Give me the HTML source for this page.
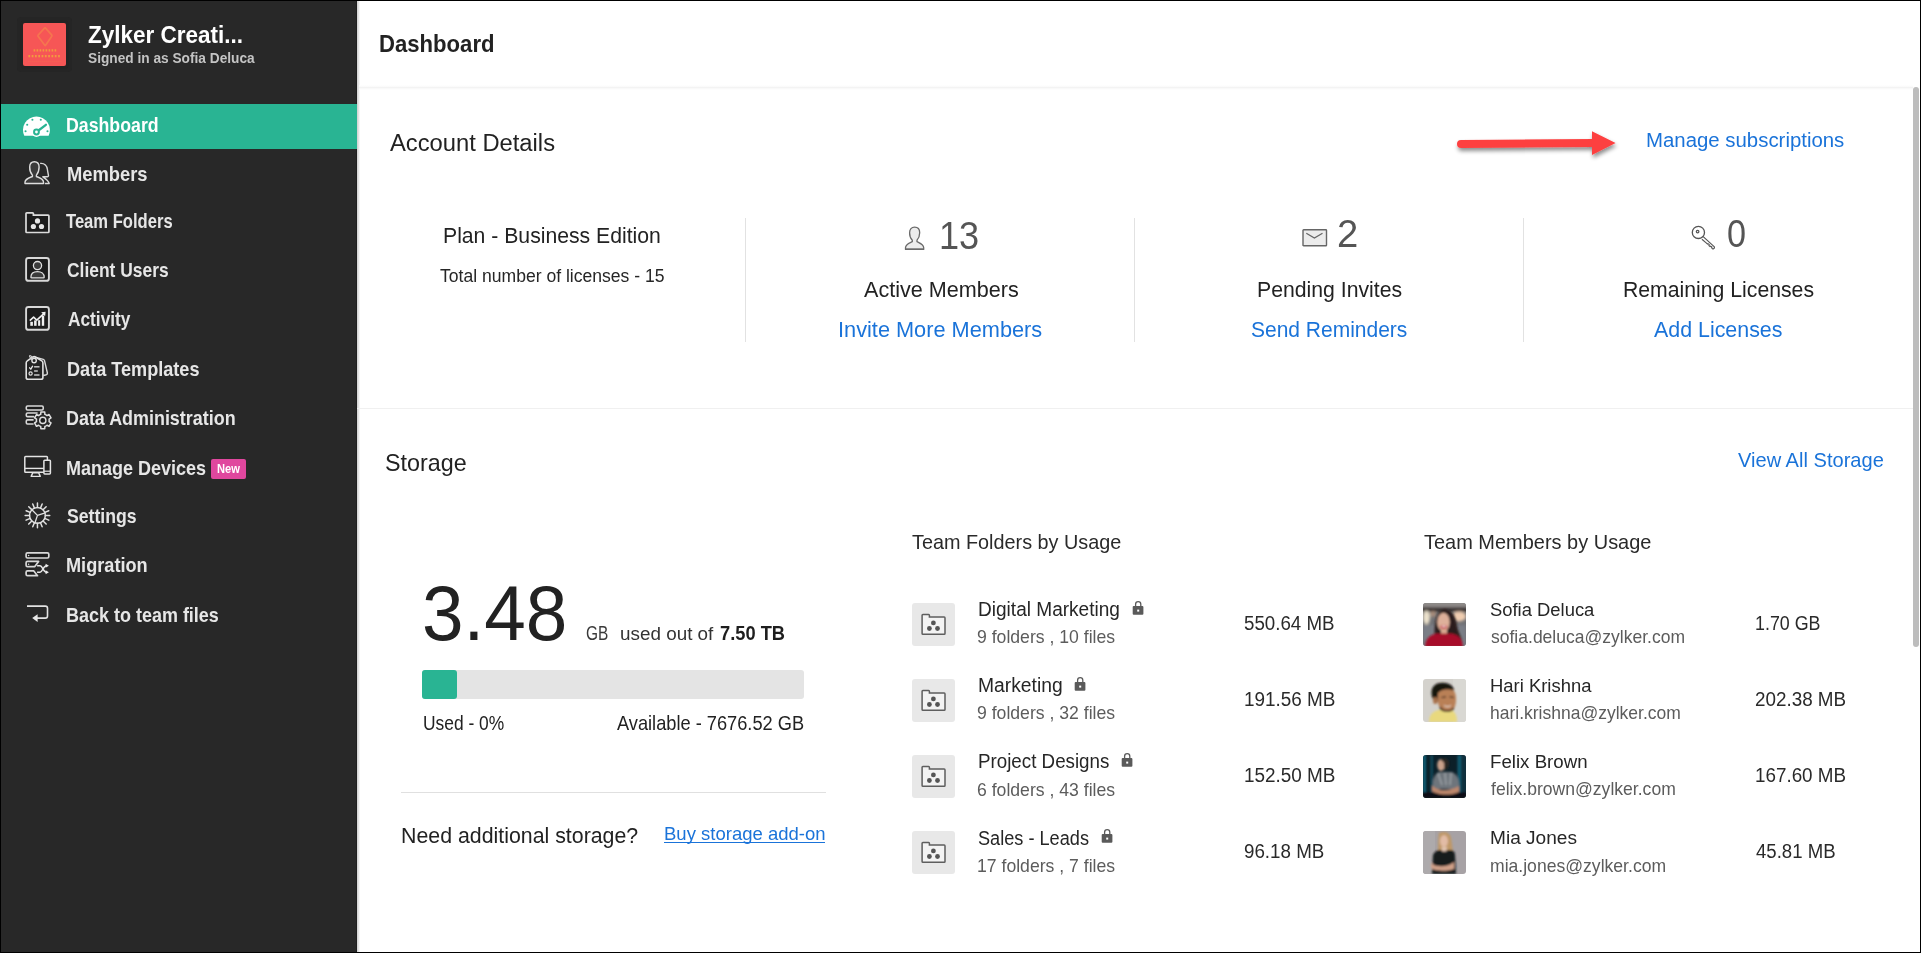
<!DOCTYPE html>
<html><head><meta charset="utf-8"><title>Dashboard</title>
<style>
*{box-sizing:border-box;margin:0;padding:0}
html,body{width:1921px;height:953px;overflow:hidden;background:#fff;font-family:"Liberation Sans",sans-serif}
.a{position:absolute}
.t{position:absolute;white-space:nowrap;line-height:1;font-family:"Liberation Sans",sans-serif}
#side{position:absolute;left:0;top:0;width:357px;height:953px;background:#282828}
#sideedge{position:absolute;left:356px;top:0;width:1px;height:953px;background:#1f1f1f}
#shadow{position:absolute;left:357px;top:0;width:3px;height:953px;background:linear-gradient(90deg,#d6d6d6 0 1px,#e3e3e3 1px 2px,#f5f5f5 2px 3px)}
#active{position:absolute;left:0;top:104px;width:357px;height:45px;background:#29b493}
.hsep{position:absolute;height:1px;background:#f0f0f0}
.vsep{position:absolute;width:1px;background:#e2e2e2}
#frame{position:absolute;left:0;top:0;width:1921px;height:953px;border:1px solid #000;pointer-events:none}
#scroll{position:absolute;left:1913px;top:87px;width:6px;height:560px;border-radius:3px;background:#bdbdbd}
.tile{position:absolute;width:43px;height:43px;border-radius:3px;background:#e8e8e8}
.av{position:absolute;width:43px;height:43px;border-radius:3px;overflow:hidden}
</style></head><body>
<div id="side"></div>
<div id="sideedge"></div>
<div id="shadow"></div>
<div id="active"></div>
<!-- logo -->
<svg class="a" style="left:17px;top:17px" width="55" height="55" viewBox="0 0 55 55">
 <rect x="0" y="0" width="55" height="55" rx="4" fill="#252525"/>
 <rect x="3.5" y="3.5" width="48" height="48" rx="3" fill="#232323"/>
 <rect x="6" y="6" width="43" height="43" rx="2" fill="#f65656"/>
 <path d="M27.7,11 Q28.2,10.6 28.6,11.1 L34.8,18.2 Q35.2,18.7 34.8,19.2 L28.6,28.3 Q28.2,28.8 27.8,28.3 L21.1,19.2 Q20.8,18.7 21.1,18.2 Z" fill="none" stroke="#f47a4e" stroke-width="1.8" opacity="0.85"/>
 <path d="M16.6,33.4 H39.2" stroke="#f2a23c" stroke-width="2.2" stroke-dasharray="1.6 1.4" opacity="0.9"/>
 <path d="M11.4,39.2 H44.4" stroke="#f2a23c" stroke-width="2.2" stroke-dasharray="1.7 1.6" opacity="0.9"/>
 <path d="M11.4,44.4 H44.4" stroke="#f08050" stroke-width="1" stroke-dasharray="1 1" opacity="0.35"/>
</svg>
<!-- ICONS -->
<!-- dashboard gauge -->
<svg class="a" style="left:18px;top:110px" width="38" height="32" viewBox="0 0 38 32">
 <path d="M6.3,25.8 A13.45,13.45 0 1 1 30.6,25.8 Z" fill="#fff"/>
 <circle cx="18.46" cy="22" r="4.9" fill="#fff"/>
 <line x1="18.46" y1="22" x2="27.9" y2="14.8" stroke="#29b493" stroke-width="2.3" stroke-linecap="round"/>
 <circle cx="18.46" cy="22" r="3.4" fill="#29b493"/>
 <circle cx="18.46" cy="22" r="1.4" fill="#fff"/>
 <g fill="#29b493"><circle cx="14.4" cy="9.7" r="1.05"/><circle cx="22.8" cy="9.7" r="1.05"/><circle cx="9.2" cy="14.8" r="1.05"/><circle cx="7.55" cy="21.3" r="1.05"/><circle cx="29.5" cy="21.3" r="1.05"/></g>
</svg>
<!-- members -->
<svg class="a" style="left:20px;top:157px" width="34" height="32" viewBox="0 0 34 32">
 <path d="M20.1,6.4 C24.5,6 26.8,8.5 27.4,12.5 C27.8,15.5 28.3,17 28.5,18.5 C28.6,19.5 27.5,19.8 26,19.8 L22.8,19.8 C25.5,21.5 28.5,23.5 29.2,26.5 L24.8,26.5" fill="none" stroke="#d8d8d8" stroke-width="1.4" stroke-linejoin="round"/>
 <path d="M12.4,18.1 C10.5,16 9.6,13.5 9.7,10 C9.7,6.5 11.6,4.7 14.4,4.7 C17.2,4.7 19.1,6.5 19.1,10 C19.1,13.5 18.2,16 16.4,18.1 L16.4,19.5 C19.5,20.8 23.3,21.8 23.5,25 L23.5,26.5 L5,26.5 L5,25 C5.3,21.8 9.2,20.8 12.4,19.5 Z" fill="#3b3b3b" stroke="#dedede" stroke-width="1.4" stroke-linejoin="round"/>
</svg>
<!-- team folders -->
<svg class="a" style="left:20px;top:206px" width="34" height="32" viewBox="0 0 34 32">
 <path d="M6,7.6 Q6,6.8 6.8,6.8 L12.6,6.8 Q13.4,6.8 13.4,7.6 L13.4,9.1 L28.1,9.1 Q28.9,9.1 28.9,9.9 L28.9,25.7 Q28.9,26.5 28.1,26.5 L6.8,26.5 Q6,26.5 6,25.7 Z" fill="#1c1c1c" stroke="#dcdcdc" stroke-width="1.7"/>
 <g fill="#e6e6e6"><circle cx="17.5" cy="14.9" r="2.6"/><circle cx="13.4" cy="20.5" r="2.6"/><circle cx="21.5" cy="20.5" r="2.6"/></g>
</svg>
<!-- client users -->
<svg class="a" style="left:20px;top:254px" width="34" height="32" viewBox="0 0 34 32">
 <rect x="6.1" y="4" width="22.8" height="22.8" rx="2.4" fill="#1c1c1c" stroke="#d8d8d8" stroke-width="1.9"/>
 <circle cx="17.5" cy="11.6" r="4.1" fill="#3b3b3b" stroke="#e0e0e0" stroke-width="1.3"/>
 <path d="M10.9,23.3 C10.9,19.6 13.8,17.6 17.5,17.6 C21.2,17.6 24.2,19.6 24.2,23.3 Q24.2,23.9 23.6,23.9 L11.5,23.9 Q10.9,23.9 10.9,23.3 Z" fill="#3b3b3b" stroke="#e0e0e0" stroke-width="1.3"/>
</svg>
<!-- activity -->
<svg class="a" style="left:20px;top:303px" width="34" height="32" viewBox="0 0 34 32">
 <rect x="6.1" y="4" width="22.8" height="22.8" rx="2.4" fill="#1c1c1c" stroke="#d8d8d8" stroke-width="1.9"/>
 <g fill="#f0f0f0"><rect x="10.3" y="18.8" width="2.6" height="4"/><rect x="14.1" y="17.4" width="2.5" height="5.4"/><rect x="18.1" y="17.2" width="2.1" height="5.6"/><rect x="21.8" y="12.6" width="2.4" height="10.2"/></g>
 <path d="M9.8,17.6 L13.6,14.2 L16.8,17.1 L23.6,10.8" fill="none" stroke="#f0f0f0" stroke-width="1.6" stroke-linejoin="round"/>
 <path d="M21.2,9.3 L25.6,8.8 L25.1,13.2 Z" fill="#f0f0f0"/>
</svg>
<!-- data templates -->
<svg class="a" style="left:20px;top:352px" width="34" height="32" viewBox="0 0 34 32">
 <path d="M13.5,4.8 L23.3,7.4 Q24.3,7.7 24.5,8.6 L27.4,21 Q27.6,22.3 26.4,22.7 L23.3,23.5" fill="none" stroke="#d8d8d8" stroke-width="1.4" stroke-linejoin="round"/>
 <path d="M6.2,11 Q6.2,9.6 7.3,8.9 L12.9,5 Q14.1,4.3 15.3,5 L21.8,8.9 Q22.9,9.6 22.9,11 L22.9,25.4 Q22.9,27.3 21,27.3 L8.1,27.3 Q6.2,27.3 6.2,25.4 Z" fill="#232323" stroke="#e2e2e2" stroke-width="1.6" stroke-linejoin="round"/>
 <circle cx="14.1" cy="8.5" r="2.2" fill="none" stroke="#e2e2e2" stroke-width="1.4"/>
 <path d="M12.3,8 C10.5,6 9,4.5 9.5,3.8 C10.2,3 12,4.5 13,6.5" fill="none" stroke="#d0d0d0" stroke-width="1.1"/>
 <path d="M9.6,15.8 L10.8,17.2 L12.6,14.2" fill="none" stroke="#e8e8e8" stroke-width="1.3" stroke-linecap="round" stroke-linejoin="round"/>
 <g stroke="#c8c8c8" stroke-width="1.5"><line x1="14.1" y1="14.8" x2="19.5" y2="14.8"/><line x1="14.1" y1="19" x2="17.8" y2="19"/><line x1="14.1" y1="23" x2="19.5" y2="23"/></g>
 <circle cx="10.6" cy="21.5" r="1.6" fill="none" stroke="#e2e2e2" stroke-width="1.2"/>
</svg>
<!-- data administration -->
<svg class="a" style="left:20px;top:402px" width="34" height="32" viewBox="0 0 34 32">
 <rect x="6.3" y="4" width="16.9" height="4" rx="1.2" fill="#1c1c1c" stroke="#d8d8d8" stroke-width="1.6"/>
 <path d="M17.6,11 L7.5,11 Q6.3,11 6.3,12.2 L6.3,13.4 Q6.3,14.6 7.5,14.6 L14.2,14.6" fill="#1c1c1c" stroke="#d8d8d8" stroke-width="1.6"/>
 <path d="M13.6,17.9 L7.5,17.9 Q6.3,17.9 6.3,19.1 L6.3,20.8 Q6.3,22 7.5,22 L13.6,22" fill="#1c1c1c" stroke="#d8d8d8" stroke-width="1.6"/>
 <path id="gear" fill="#282828" stroke="#e0e0e0" stroke-width="1.5" stroke-linejoin="round" d="M20.72,12.35 L20.87,10.02 L24.73,10.02 L24.88,12.35 A6.40,6.40 0 0 1 27.00,13.57 L27.00,13.57 L29.09,12.53 L31.02,15.89 L29.08,17.18 A6.40,6.40 0 0 1 29.08,19.62 L29.08,19.62 L31.02,20.91 L29.09,24.27 L27.00,23.23 A6.40,6.40 0 0 1 24.88,24.45 L24.88,24.45 L24.73,26.78 L20.87,26.78 L20.72,24.45 A6.40,6.40 0 0 1 18.60,23.23 L18.60,23.23 L16.51,24.27 L14.58,20.91 L16.52,19.62 A6.40,6.40 0 0 1 16.52,17.18 L16.52,17.18 L14.58,15.89 L16.51,12.53 L18.60,13.57 A6.40,6.40 0 0 1 20.72,12.35 Z"/>
 <circle cx="22.8" cy="18.4" r="3.1" fill="#1c1c1c" stroke="#e0e0e0" stroke-width="1.4"/>
</svg>
<!-- manage devices -->
<svg class="a" style="left:20px;top:451px" width="34" height="32" viewBox="0 0 34 32">
 <rect x="4.8" y="5.4" width="22.6" height="15.8" rx="0.8" fill="#222" stroke="#e4e4e4" stroke-width="1.5"/>
 <line x1="4.8" y1="17.4" x2="27.4" y2="17.4" stroke="#e4e4e4" stroke-width="1.4"/>
 <path d="M12.7,21.9 L18.7,21.9 L20.3,25.4 L11.2,25.4 Z" fill="#222" stroke="#e4e4e4" stroke-width="1.4" stroke-linejoin="round"/>
 <rect x="23.9" y="9.3" width="6.5" height="13.6" rx="0.8" fill="#222" stroke="#e4e4e4" stroke-width="1.5"/>
 <line x1="24" y1="20.2" x2="30.3" y2="20.2" stroke="#e4e4e4" stroke-width="1.2"/>
</svg>
<!-- settings -->
<svg class="a" style="left:20px;top:500px" width="34" height="32" viewBox="0 0 34 32">
 <g fill="none" stroke="#e0e0e0" stroke-width="1.5" stroke-linecap="round">
 <circle cx="17.45" cy="15.4" r="7.9"/>
 <path id="spk" d="M17.45,7.5 V3.1 M17.45,23.3 V27.7 M9.55,15.4 H5.15 M25.35,15.4 H29.75 M11.86,9.81 L8.76,6.71 M23.04,20.99 L26.14,24.09 M11.86,20.99 L8.76,24.09 M23.04,9.81 L26.14,6.71 M14.43,8.10 L12.74,4.04 M20.47,22.70 L22.16,26.76 M10.15,12.38 L6.09,10.69 M24.75,18.42 L28.81,20.11 M10.15,18.42 L6.09,20.11 M24.75,12.38 L28.81,10.69 M14.43,22.70 L12.74,26.76 M20.47,8.10 L22.16,4.04"/>
 <path d="M17.45,15.4 L11.4,9.2 M17.45,15.4 L25.2,12.9 M17.45,15.4 L14.9,23" stroke-width="1.3"/>
 </g>
</svg>
<!-- migration -->
<svg class="a" style="left:20px;top:549px" width="34" height="32" viewBox="0 0 34 32">
 <rect x="6.1" y="3.9" width="22.7" height="5.1" rx="1.4" fill="#1c1c1c" stroke="#d8d8d8" stroke-width="1.7"/>
 <circle cx="8.6" cy="6.5" r="0.8" fill="#ddd"/>
 <path d="M18.6,12.4 L7.5,12.4 Q6.1,12.4 6.1,13.8 L6.1,16.3 Q6.1,17.7 7.5,17.7 L14.6,17.7 Z" fill="#1c1c1c" stroke="#d8d8d8" stroke-width="1.7" stroke-linejoin="round"/>
 <circle cx="8.6" cy="15.2" r="0.8" fill="#ddd"/>
 <path d="M13.8,21.9 L7.5,21.9 Q6.1,21.9 6.1,23.3 L6.1,25.3 Q6.1,26.7 7.5,26.7 L17.5,26.7 Z" fill="#1c1c1c" stroke="#d8d8d8" stroke-width="1.7" stroke-linejoin="round"/>
 <g fill="none" stroke="#e6e6e6" stroke-width="1.5">
  <path d="M17.1,16.8 L20.1,16.8 C22.5,16.8 23.5,23.2 26.3,23.2"/>
  <path d="M17.1,23.2 L20.1,23.2 C22.5,23.2 23.5,16.8 26.3,16.8"/>
 </g>
 <path d="M25.6,14.8 L28.9,16.8 L25.6,18.8 Z M25.6,21.2 L28.9,23.2 L25.6,25.2 Z" fill="#ececec"/>
</svg>
<!-- back -->
<svg class="a" style="left:20px;top:598px" width="34" height="32" viewBox="0 0 34 32">
 <path d="M7,8.1 L25.3,8.1 Q27.5,8.1 27.5,10.3 L27.5,17.9 Q27.5,20.1 25.3,20.1 L16.8,20.1" fill="none" stroke="#e2e2e2" stroke-width="1.6"/>
 <path d="M12.2,20.1 L17.6,16.3 L17.6,23.9 Z" fill="#e8e8e8"/>
</svg>
<!-- New badge -->
<div class="a" style="left:211px;top:459px;width:35px;height:20px;border-radius:2px;background:#e0479e"></div>

<!-- main separators -->
<div class="a" style="left:359px;top:85px;width:1554px;height:5px;background:linear-gradient(180deg,#fff,#f9f9f9 40%,#f3f3f3 50%,#f9f9f9 70%,#fff)"></div>
<div class="hsep" style="left:357px;top:408px;width:1556px"></div>
<div class="vsep" style="left:745px;top:218px;height:124px"></div>
<div class="vsep" style="left:1134px;top:218px;height:124px"></div>
<div class="vsep" style="left:1523px;top:218px;height:124px"></div>
<div class="a" style="left:401px;top:792px;width:425px;height:1px;background:#e0e0e0"></div>
<div id="uline" class="a" style="left:664px;top:842px;width:161px;height:1.2px;background:#1a73d9"></div>
<!-- progress -->
<div class="a" style="left:422px;top:670px;width:382px;height:29px;border-radius:3px;background:#e4e4e4"></div>
<div class="a" style="left:422px;top:670px;width:35px;height:29px;border-radius:3px;background:#29b493"></div>
<!-- arrow -->
<svg class="a" style="left:1450px;top:125px;overflow:visible" width="175" height="40" viewBox="1450 125 175 40">
 <defs><filter id="sh" x="-10%" y="-50%" width="120%" height="200%"><feDropShadow dx="1" dy="3" stdDeviation="2" flood-color="#000" flood-opacity="0.45"/></filter></defs>
 <g filter="url(#sh)">
  <path d="M1461,139.9 L1593,139.1 L1593,147.1 L1461,147.9 A4,4 0 0 1 1461,139.9 Z" fill="#fd4141"/>
  <path d="M1592,131.3 L1615.6,143.1 L1592,154.9 Z" fill="#fd4141"/>
 </g>
</svg>
<!-- stat icons -->
<svg class="a" style="left:904px;top:226px" width="22" height="26" viewBox="0 0 22 26">
 <path d="M8.3,14.2 C6.5,12.2 5.5,9.7 5.6,6.7 C5.6,3.2 7.5,1.2 10.6,1.2 C13.7,1.2 15.7,3.2 15.7,6.7 C15.7,9.7 14.7,12.2 13,14.2 L13,15.7 C16,17.2 19.5,18.2 19.7,21.7 L19.7,23.4 L1.5,23.4 L1.5,21.7 C1.7,18.2 5.3,17.2 8.3,15.7 Z" fill="#ececec" stroke="#6a6a6a" stroke-width="1.3" stroke-linejoin="round"/>
 <line x1="1.5" y1="23.2" x2="19.7" y2="23.2" stroke="#6a6a6a" stroke-width="1.6"/>
</svg>
<svg class="a" style="left:1300px;top:227px" width="29" height="21" viewBox="0 0 29 21">
 <rect x="3" y="2.7" width="23.5" height="16.1" rx="0.6" fill="#ececec" stroke="#666" stroke-width="1.4"/>
 <path d="M6.3,6.3 L14.4,11.1 L22.5,6.3" fill="none" stroke="#666" stroke-width="1.3"/>
</svg>
<svg class="a" style="left:1688px;top:222px" width="30" height="30" viewBox="0 0 30 30">
 <circle cx="10.4" cy="10.4" r="6.1" fill="none" stroke="#555" stroke-width="1.3"/>
 <circle cx="9.6" cy="9.6" r="1.3" fill="none" stroke="#555" stroke-width="1.2"/>
 <path d="M14.9,14.3 L26.4,24.9 L26.4,26 L25,27.1 L23.6,25.9 L23.9,25 L22.6,24.1 L22.1,24.6 L20.9,23.5 L21.3,22.6 L20,21.7 L19.5,22.1 L18.2,20.9 L13.9,17.2" fill="none" stroke="#555" stroke-width="1.15" stroke-linejoin="round"/>
</svg>
<!-- folder tiles -->
<svg class="a" style="left:912px;top:603px" width="43" height="43" viewBox="0 0 43 43"><rect width="43" height="43" rx="3" fill="#e8e8e8"/><path d="M10.1,12.2 Q10.1,11.4 10.9,11.4 L16.6,11.4 Q17.4,11.4 17.4,12.2 L17.4,14.1 L32.2,14.1 Q33,14.1 33,14.9 L33,30.5 Q33,31.3 32.2,31.3 L10.9,31.3 Q10.1,31.3 10.1,30.5 Z" fill="#f3f3f3" stroke="#5e5e5e" stroke-width="1.5"/><g fill="#555"><circle cx="21.4" cy="19.9" r="2.4"/><circle cx="17.4" cy="25.5" r="2.4"/><circle cx="25.5" cy="25.5" r="2.4"/></g></svg>
<svg class="a" style="left:1131.7px;top:600.0px" width="13" height="16" viewBox="0 0 13 16"><path d="M3.6,6.4 V4.2 A2.6,2.6 0 0 1 8.8,4.2 V6.4" fill="none" stroke="#5a5a5a" stroke-width="1.3"/><rect x="0.7" y="6" width="10.7" height="8.8" rx="1" fill="#5a5a5a"/><rect x="5.2" y="9.6" width="2" height="2" fill="#fff"/></svg>
<svg class="a" style="left:912px;top:679px" width="43" height="43" viewBox="0 0 43 43"><rect width="43" height="43" rx="3" fill="#e8e8e8"/><path d="M10.1,12.2 Q10.1,11.4 10.9,11.4 L16.6,11.4 Q17.4,11.4 17.4,12.2 L17.4,14.1 L32.2,14.1 Q33,14.1 33,14.9 L33,30.5 Q33,31.3 32.2,31.3 L10.9,31.3 Q10.1,31.3 10.1,30.5 Z" fill="#f3f3f3" stroke="#5e5e5e" stroke-width="1.5"/><g fill="#555"><circle cx="21.4" cy="19.9" r="2.4"/><circle cx="17.4" cy="25.5" r="2.4"/><circle cx="25.5" cy="25.5" r="2.4"/></g></svg>
<svg class="a" style="left:1074.0px;top:676.0px" width="13" height="16" viewBox="0 0 13 16"><path d="M3.6,6.4 V4.2 A2.6,2.6 0 0 1 8.8,4.2 V6.4" fill="none" stroke="#5a5a5a" stroke-width="1.3"/><rect x="0.7" y="6" width="10.7" height="8.8" rx="1" fill="#5a5a5a"/><rect x="5.2" y="9.6" width="2" height="2" fill="#fff"/></svg>
<svg class="a" style="left:912px;top:755px" width="43" height="43" viewBox="0 0 43 43"><rect width="43" height="43" rx="3" fill="#e8e8e8"/><path d="M10.1,12.2 Q10.1,11.4 10.9,11.4 L16.6,11.4 Q17.4,11.4 17.4,12.2 L17.4,14.1 L32.2,14.1 Q33,14.1 33,14.9 L33,30.5 Q33,31.3 32.2,31.3 L10.9,31.3 Q10.1,31.3 10.1,30.5 Z" fill="#f3f3f3" stroke="#5e5e5e" stroke-width="1.5"/><g fill="#555"><circle cx="21.4" cy="19.9" r="2.4"/><circle cx="17.4" cy="25.5" r="2.4"/><circle cx="25.5" cy="25.5" r="2.4"/></g></svg>
<svg class="a" style="left:1121.3px;top:752.0px" width="13" height="16" viewBox="0 0 13 16"><path d="M3.6,6.4 V4.2 A2.6,2.6 0 0 1 8.8,4.2 V6.4" fill="none" stroke="#5a5a5a" stroke-width="1.3"/><rect x="0.7" y="6" width="10.7" height="8.8" rx="1" fill="#5a5a5a"/><rect x="5.2" y="9.6" width="2" height="2" fill="#fff"/></svg>
<svg class="a" style="left:912px;top:831px" width="43" height="43" viewBox="0 0 43 43"><rect width="43" height="43" rx="3" fill="#e8e8e8"/><path d="M10.1,12.2 Q10.1,11.4 10.9,11.4 L16.6,11.4 Q17.4,11.4 17.4,12.2 L17.4,14.1 L32.2,14.1 Q33,14.1 33,14.9 L33,30.5 Q33,31.3 32.2,31.3 L10.9,31.3 Q10.1,31.3 10.1,30.5 Z" fill="#f3f3f3" stroke="#5e5e5e" stroke-width="1.5"/><g fill="#555"><circle cx="21.4" cy="19.9" r="2.4"/><circle cx="17.4" cy="25.5" r="2.4"/><circle cx="25.5" cy="25.5" r="2.4"/></g></svg>
<svg class="a" style="left:1100.5px;top:828.0px" width="13" height="16" viewBox="0 0 13 16"><path d="M3.6,6.4 V4.2 A2.6,2.6 0 0 1 8.8,4.2 V6.4" fill="none" stroke="#5a5a5a" stroke-width="1.3"/><rect x="0.7" y="6" width="10.7" height="8.8" rx="1" fill="#5a5a5a"/><rect x="5.2" y="9.6" width="2" height="2" fill="#fff"/></svg>

<!-- avatars -->

<svg class="a" style="left:1423px;top:603px" width="43" height="43" viewBox="0 0 43 43">
 <defs><clipPath id="c1"><rect width="43" height="43" rx="3"/></clipPath><filter id="b1"><feGaussianBlur stdDeviation="0.8"/></filter><filter id="b2"><feGaussianBlur stdDeviation="1.8"/></filter></defs>
 <g clip-path="url(#c1)">
  <rect width="43" height="43" fill="#6f7074"/>
  <g filter="url(#b2)">
   <rect x="-2" y="-2" width="47" height="7" fill="#8e8a88"/>
   <rect x="-2" y="4.5" width="47" height="4" fill="#2e2826"/>
   <rect x="0" y="22" width="43" height="21" fill="#7a7e86"/>
   <ellipse cx="3.5" cy="14.5" rx="3.5" ry="7" fill="#ece2cc"/>
   <ellipse cx="36" cy="13.5" rx="7" ry="5" fill="#f0cdb0"/>
   <ellipse cx="10" cy="11" rx="3" ry="3" fill="#a88c7a"/>
  </g>
  <g filter="url(#b1)">
   <path d="M12,36 C11,25 12,8 21,6.5 C30,6 33,15 34,23 C35,29 38,33 39,38 L30,40 Z" fill="#2a1d1a"/>
   <ellipse cx="20.5" cy="19" rx="6.3" ry="9.2" fill="#deb09a"/>
   <ellipse cx="20.8" cy="23.8" rx="3.4" ry="1.9" fill="#c0182c"/>
   <ellipse cx="20.8" cy="23.4" rx="2.4" ry="0.8" fill="#f4e8e4"/>
   <rect x="18" y="26" width="6" height="6" fill="#d8a890"/>
   <path d="M2,44 C2,35 8,31.5 14,30.5 L28,30.5 C34,31.5 40,35 40,44 Z" fill="#a70f2c"/>
  </g>
 </g>
</svg>
<svg class="a" style="left:1423px;top:679px" width="43" height="43" viewBox="0 0 43 43">
 <defs><clipPath id="c2"><rect width="43" height="43" rx="3"/></clipPath></defs>
 <g clip-path="url(#c2)">
  <rect width="43" height="43" fill="#d4d2cd"/>
  <rect x="30" width="13" height="43" fill="#d9d8d3"/>
  <g filter="url(#b1)">
   <path d="M6,43 C6,36 10,32 16,31 L27,30.5 C31,31.5 34,35 34,43 Z" fill="#e9d97e"/>
   <path d="M8.5,14 C8.5,6.5 14,3.5 20,3.8 C26,4 30,6.5 31,11 L29,13 C24,10.5 19,11 16,14 L15,22 L13,24 C10,21 8.5,18 8.5,14 Z" fill="#171211"/>
   <ellipse cx="12.3" cy="21.5" rx="2.3" ry="3.5" fill="#a8714b"/>
   <path d="M15,14 C18,9.5 28,9 31.5,12.5 C33.5,16.5 33.5,24 31.5,28.5 C29.5,32 25,33 21,32 C17,30 15,26 14.5,21 Z" fill="#b98057"/>
   <path d="M17,27 C20,32 27,33 31,28 L31,30.5 C27,34 20,34 16.5,30 Z" fill="#4a3020"/>
   <path d="M18.5,18.5 L23,17.8 M26.5,17.8 L31,18.5" stroke="#2a1a12" stroke-width="1"/>
   <path d="M21,26.5 C23,28 26,28 28,26.5" stroke="#f2e6dc" stroke-width="1" fill="none"/>
  </g>
 </g>
</svg>
<svg class="a" style="left:1423px;top:755px" width="43" height="43" viewBox="0 0 43 43">
 <defs><clipPath id="c3"><rect width="43" height="43" rx="3"/></clipPath></defs>
 <g clip-path="url(#c3)">
  <rect width="43" height="43" fill="#0c2029"/>
  <g filter="url(#b1)">
   <rect x="0" y="0" width="3" height="40" fill="#0e6078"/>
   <rect x="7.5" y="0" width="2.5" height="40" fill="#114a5c"/>
   <rect x="34.5" y="0" width="4" height="40" fill="#0f5a70"/>
   <rect x="40" y="0" width="3" height="40" fill="#0a3442"/>
   <rect x="0" y="37" width="43" height="6" fill="#081015"/>
   <path d="M10,34 C9,25 11,19 16,17 L29,17 C34,19 37,25 36,34 Z" fill="#6e747c"/>
   <path d="M15,18 L19,30 M22,18 L23,30 M28,18 L27,30" stroke="#9aa0a4" stroke-width="1.6"/>
   <ellipse cx="18" cy="10" rx="3.8" ry="6" fill="#c9a08a"/>
   <path d="M17,4 C20,2.5 26,3.5 26,8 C26,12 24,15 21,15 L21,8 C20,6 18,5.5 17,4 Z" fill="#2a2622"/>
   <path d="M9,30 C13,36 26,37 36,31 L36,37 C27,41 14,40 9,36 Z" fill="#bd876c"/>
  </g>
 </g>
</svg>
<svg class="a" style="left:1423px;top:831px" width="43" height="43" viewBox="0 0 43 43">
 <defs><clipPath id="c4"><rect width="43" height="43" rx="3"/></clipPath></defs>
 <g clip-path="url(#c4)">
  <rect width="43" height="43" fill="#a7a2a5"/>
  <rect width="12" height="43" fill="#adaaac"/>
  <g filter="url(#b1)">
   <path d="M16,2 C21,0 27,1 28,7 C29,13 30,19 30,27 L15,27 C15,19 15,8 16,2 Z" fill="#bf9868"/>
   <path d="M9,43 L10,24 C11,21 14,19 17,19 L27,19 C30,19 32,21 32,24 L33,43 Z" fill="#151a1e"/>
   <ellipse cx="21" cy="10" rx="4" ry="6" fill="#e2bca6"/>
   <path d="M18.5,16 L24,16 L23.5,20.5 L19,20.5 Z" fill="#e0c2ae"/>
   <path d="M8,32 C12,36 24,37 31,31 L31,38 C24,41 12,40 8,37 Z" fill="#d0a088"/>
  </g>
 </g>
</svg>


<div id="scroll"></div>
<div id="s_title" class="t" style="left:87.70px;top:22.60px;font-size:24.71px;font-weight:700;color:#ffffff;transform:scaleX(0.9109);transform-origin:0 0;">Zylker Creati...</div>
<div id="s_sub" class="t" style="left:88.00px;top:49.65px;font-size:15.12px;font-weight:700;color:#c4c4c4;transform:scaleX(0.9063);transform-origin:0 0;">Signed in as Sofia Deluca</div>
<div id="nav0" class="t" style="left:65.90px;top:115.25px;font-size:20.06px;font-weight:700;color:#ffffff;transform:scaleX(0.8847);transform-origin:0 0;">Dashboard</div>
<div id="nav1" class="t" style="left:66.50px;top:163.55px;font-size:20.06px;font-weight:700;color:#e6e6e6;transform:scaleX(0.9147);transform-origin:0 0;">Members</div>
<div id="nav2" class="t" style="left:66.40px;top:211.25px;font-size:20.06px;font-weight:700;color:#e6e6e6;transform:scaleX(0.8273);transform-origin:0 0;">Team Folders</div>
<div id="nav3" class="t" style="left:67.40px;top:260.15px;font-size:20.06px;font-weight:700;color:#e6e6e6;transform:scaleX(0.8686);transform-origin:0 0;">Client Users</div>
<div id="nav4" class="t" style="left:67.70px;top:308.85px;font-size:20.06px;font-weight:700;color:#e6e6e6;transform:scaleX(0.8627);transform-origin:0 0;">Activity</div>
<div id="nav5" class="t" style="left:66.50px;top:358.55px;font-size:20.06px;font-weight:700;color:#e6e6e6;transform:scaleX(0.9032);transform-origin:0 0;">Data Templates</div>
<div id="nav6" class="t" style="left:66.10px;top:408.25px;font-size:20.06px;font-weight:700;color:#e6e6e6;transform:scaleX(0.8938);transform-origin:0 0;">Data Administration</div>
<div id="nav7" class="t" style="left:66.10px;top:457.55px;font-size:20.06px;font-weight:700;color:#e6e6e6;transform:scaleX(0.8982);transform-origin:0 0;">Manage Devices</div>
<div id="nav8" class="t" style="left:67.40px;top:506.25px;font-size:20.06px;font-weight:700;color:#e6e6e6;transform:scaleX(0.8812);transform-origin:0 0;">Settings</div>
<div id="nav9" class="t" style="left:66.10px;top:555.15px;font-size:20.06px;font-weight:700;color:#e6e6e6;transform:scaleX(0.9053);transform-origin:0 0;">Migration</div>
<div id="nav10" class="t" style="left:66.10px;top:604.65px;font-size:20.06px;font-weight:700;color:#e6e6e6;transform:scaleX(0.8967);transform-origin:0 0;">Back to team files</div>
<div id="newb" class="t" style="left:217.30px;top:462.70px;font-size:12.94px;font-weight:700;color:#ffffff;transform:scaleX(0.8612);transform-origin:0 0;">New</div>
<div id="m_title" class="t" style="left:378.70px;top:31.87px;font-size:24.27px;font-weight:700;color:#222;transform:scaleX(0.9113);transform-origin:0 0;">Dashboard</div>
<div id="acc" class="t" style="left:390.20px;top:130.72px;font-size:24.56px;font-weight:400;color:#222;transform:scaleX(0.9675);transform-origin:0 0;">Account Details</div>
<div id="manage" class="t" style="left:1646.30px;top:130.68px;font-size:19.91px;font-weight:400;color:#1a73d9;transform:scaleX(1.0241);transform-origin:0 0;">Manage subscriptions</div>
<div id="plan" class="t" style="left:442.90px;top:224.43px;font-size:22.67px;font-weight:400;color:#222;transform:scaleX(0.9351);transform-origin:0 0;">Plan - Business Edition</div>
<div id="total" class="t" style="left:440.20px;top:266.63px;font-size:18.90px;font-weight:400;color:#262626;transform:scaleX(0.9298);transform-origin:0 0;">Total number of licenses - 15</div>
<div id="n13" class="t" style="left:938.70px;top:215.85px;font-size:39.24px;font-weight:400;color:#555;transform:scaleX(0.9205);transform-origin:0 0;">13</div>
<div id="act" class="t" style="left:863.50px;top:278.18px;font-size:22.97px;font-weight:400;color:#222;transform:scaleX(0.9396);transform-origin:0 0;">Active Members</div>
<div id="inv" class="t" style="left:837.90px;top:317.90px;font-size:22.82px;font-weight:400;color:#1a73d9;transform:scaleX(0.9531);transform-origin:0 0;">Invite More Members</div>
<div id="n2" class="t" style="left:1336.70px;top:214.70px;font-size:38.23px;font-weight:400;color:#555;transform:scaleX(0.9996);transform-origin:0 0;">2</div>
<div id="pend" class="t" style="left:1257.00px;top:278.23px;font-size:22.67px;font-weight:400;color:#222;transform:scaleX(0.9366);transform-origin:0 0;">Pending Invites</div>
<div id="send" class="t" style="left:1251.10px;top:317.93px;font-size:22.67px;font-weight:400;color:#1a73d9;transform:scaleX(0.9263);transform-origin:0 0;">Send Reminders</div>
<div id="n0" class="t" style="left:1727.00px;top:215.10px;font-size:38.23px;font-weight:400;color:#555;transform:scaleX(0.8947);transform-origin:0 0;">0</div>
<div id="rem" class="t" style="left:1623.00px;top:278.33px;font-size:22.67px;font-weight:400;color:#222;transform:scaleX(0.9361);transform-origin:0 0;">Remaining Licenses</div>
<div id="addl" class="t" style="left:1654.20px;top:318.23px;font-size:22.67px;font-weight:400;color:#1a73d9;transform:scaleX(0.9444);transform-origin:0 0;">Add Licenses</div>
<div id="stor" class="t" style="left:385.40px;top:452.31px;font-size:23.40px;font-weight:400;color:#222;transform:scaleX(0.9960);transform-origin:0 0;">Storage</div>
<div id="viewall" class="t" style="left:1738.40px;top:449.78px;font-size:20.49px;font-weight:400;color:#1a73d9;transform:scaleX(0.9799);transform-origin:0 0;">View All Storage</div>
<div id="big" class="t" style="left:422.40px;top:573.83px;font-size:78.20px;font-weight:400;color:#222;transform:scaleX(0.9550);transform-origin:0 0;">3.48</div>
<div id="gb" class="t" style="left:585.90px;top:623.70px;font-size:19.77px;font-weight:400;color:#3a3a3a;transform:scaleX(0.7809);transform-origin:0 0;">GB</div>
<div id="usedof" class="t" style="left:619.60px;top:624.56px;font-size:18.75px;font-weight:400;color:#333;transform:scaleX(1.0061);transform-origin:0 0;">used out of</div>
<div id="tb" class="t" style="left:719.60px;top:624.07px;font-size:19.33px;font-weight:700;color:#1e1e1e;transform:scaleX(0.9456);transform-origin:0 0;">7.50 TB</div>
<div id="used" class="t" style="left:422.60px;top:714.14px;font-size:19.48px;font-weight:400;color:#222;transform:scaleX(0.8936);transform-origin:0 0;">Used - 0%</div>
<div id="avail" class="t" style="left:616.80px;top:714.14px;font-size:19.48px;font-weight:400;color:#222;transform:scaleX(0.9361);transform-origin:0 0;">Available - 7676.52 GB</div>
<div id="need" class="t" style="left:401.40px;top:824.50px;font-size:22.24px;font-weight:400;color:#222;transform:scaleX(0.9594);transform-origin:0 0;">Need additional storage?</div>
<div id="buy" class="t" style="left:663.50px;top:825.28px;font-size:18.02px;font-weight:400;color:#1a73d9;transform:scaleX(1.0277);transform-origin:0 0;">Buy storage add-on</div>
<div id="tfu" class="t" style="left:912.40px;top:532.72px;font-size:19.62px;font-weight:400;color:#2a2a2a;transform:scaleX(1.0107);transform-origin:0 0;">Team Folders by Usage</div>
<div id="tmu" class="t" style="left:1424.30px;top:532.82px;font-size:19.62px;font-weight:400;color:#2a2a2a;transform:scaleX(1.0179);transform-origin:0 0;">Team Members by Usage</div>
<div id="fn0" class="t" style="left:978.00px;top:600.07px;font-size:19.33px;font-weight:400;color:#262626;transform:scaleX(0.9861);transform-origin:0 0;">Digital Marketing</div>
<div id="fs0" class="t" style="left:977.40px;top:628.16px;font-size:18.17px;font-weight:400;color:#5c5c5c;transform:scaleX(0.9704);transform-origin:0 0;">9 folders , 10 files</div>
<div id="fz0" class="t" style="left:1243.60px;top:613.68px;font-size:19.91px;font-weight:400;color:#2a2a2a;transform:scaleX(0.9403);transform-origin:0 0;">550.64 MB</div>
<div id="fn1" class="t" style="left:978.00px;top:676.27px;font-size:19.33px;font-weight:400;color:#262626;transform:scaleX(0.9981);transform-origin:0 0;">Marketing</div>
<div id="fs1" class="t" style="left:977.40px;top:704.36px;font-size:18.17px;font-weight:400;color:#5c5c5c;transform:scaleX(0.9704);transform-origin:0 0;">9 folders , 32 files</div>
<div id="fz1" class="t" style="left:1243.60px;top:689.88px;font-size:19.91px;font-weight:400;color:#2a2a2a;transform:scaleX(0.9500);transform-origin:0 0;">191.56 MB</div>
<div id="fn2" class="t" style="left:978.00px;top:752.47px;font-size:19.33px;font-weight:400;color:#262626;transform:scaleX(0.9704);transform-origin:0 0;">Project Designs</div>
<div id="fs2" class="t" style="left:977.40px;top:780.56px;font-size:18.17px;font-weight:400;color:#5c5c5c;transform:scaleX(0.9704);transform-origin:0 0;">6 folders , 43 files</div>
<div id="fz2" class="t" style="left:1243.60px;top:766.08px;font-size:19.91px;font-weight:400;color:#2a2a2a;transform:scaleX(0.9500);transform-origin:0 0;">152.50 MB</div>
<div id="fn3" class="t" style="left:978.00px;top:828.67px;font-size:19.33px;font-weight:400;color:#262626;transform:scaleX(0.9388);transform-origin:0 0;">Sales - Leads</div>
<div id="fs3" class="t" style="left:977.40px;top:856.76px;font-size:18.17px;font-weight:400;color:#5c5c5c;transform:scaleX(0.9704);transform-origin:0 0;">17 folders , 7 files</div>
<div id="fz3" class="t" style="left:1243.60px;top:842.28px;font-size:19.91px;font-weight:400;color:#2a2a2a;transform:scaleX(0.9423);transform-origin:0 0;">96.18 MB</div>
<div id="mn0" class="t" style="left:1489.60px;top:600.56px;font-size:18.75px;font-weight:400;color:#262626;transform:scaleX(0.9814);transform-origin:0 0;">Sofia Deluca</div>
<div id="ms0" class="t" style="left:1490.70px;top:627.96px;font-size:18.17px;font-weight:400;color:#5c5c5c;transform:scaleX(0.9650);transform-origin:0 0;">sofia.deluca@zylker.com</div>
<div id="mz0" class="t" style="left:1754.70px;top:613.68px;font-size:19.91px;font-weight:400;color:#2a2a2a;transform:scaleX(0.8962);transform-origin:0 0;">1.70 GB</div>
<div id="mn1" class="t" style="left:1489.60px;top:676.76px;font-size:18.75px;font-weight:400;color:#262626;transform:scaleX(0.9829);transform-origin:0 0;">Hari Krishna</div>
<div id="ms1" class="t" style="left:1489.70px;top:704.16px;font-size:18.17px;font-weight:400;color:#5c5c5c;transform:scaleX(0.9636);transform-origin:0 0;">hari.krishna@zylker.com</div>
<div id="mz1" class="t" style="left:1754.70px;top:689.88px;font-size:19.91px;font-weight:400;color:#2a2a2a;transform:scaleX(0.9466);transform-origin:0 0;">202.38 MB</div>
<div id="mn2" class="t" style="left:1489.60px;top:752.96px;font-size:18.75px;font-weight:400;color:#262626;transform:scaleX(0.9964);transform-origin:0 0;">Felix Brown</div>
<div id="ms2" class="t" style="left:1490.70px;top:780.36px;font-size:18.17px;font-weight:400;color:#5c5c5c;transform:scaleX(0.9677);transform-origin:0 0;">felix.brown@zylker.com</div>
<div id="mz2" class="t" style="left:1754.70px;top:766.08px;font-size:19.91px;font-weight:400;color:#2a2a2a;transform:scaleX(0.9458);transform-origin:0 0;">167.60 MB</div>
<div id="mn3" class="t" style="left:1489.60px;top:829.16px;font-size:18.75px;font-weight:400;color:#262626;transform:scaleX(1.0174);transform-origin:0 0;">Mia Jones</div>
<div id="ms3" class="t" style="left:1489.70px;top:856.56px;font-size:18.17px;font-weight:400;color:#5c5c5c;transform:scaleX(0.9681);transform-origin:0 0;">mia.jones@zylker.com</div>
<div id="mz3" class="t" style="left:1755.70px;top:842.28px;font-size:19.91px;font-weight:400;color:#2a2a2a;transform:scaleX(0.9337);transform-origin:0 0;">45.81 MB</div>
<div id="frame"></div>
</body></html>
